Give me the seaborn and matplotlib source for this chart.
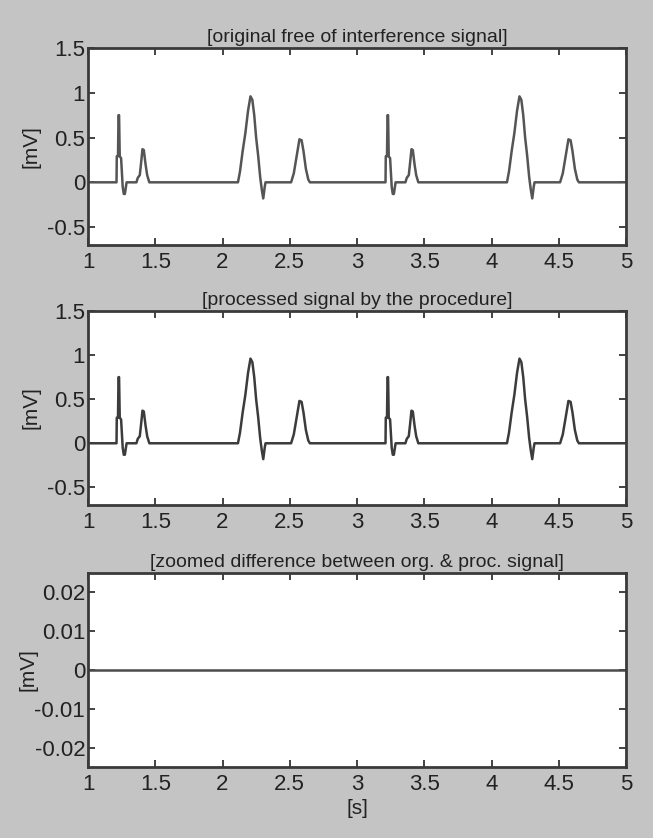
import matplotlib
matplotlib.use("Agg")
import matplotlib.pyplot as plt
import numpy as np
import pandas as pd
import seaborn as sns

# ECG-like test signal, breakpoints [s], [mV]
time_s = [
    1.000, 1.212, 1.214, 1.223, 1.227, 1.231, 1.236, 1.246, 1.258, 1.266, 1.274, 1.287,
    1.360, 1.370, 1.385, 1.395, 1.405, 1.415, 1.428, 1.440, 1.456,
    2.115, 2.130, 2.150, 2.170, 2.190, 2.208, 2.222, 2.236, 2.250, 2.265, 2.280, 2.292, 2.303, 2.314, 2.320,
    2.510, 2.530, 2.550, 2.572, 2.588, 2.602, 2.620, 2.638, 2.650,
    3.212, 3.214, 3.223, 3.227, 3.231, 3.236, 3.246, 3.258, 3.266, 3.274, 3.287,
    3.360, 3.370, 3.385, 3.395, 3.405, 3.415, 3.428, 3.440, 3.456,
    4.115, 4.130, 4.150, 4.170, 4.190, 4.208, 4.222, 4.236, 4.250, 4.265, 4.280, 4.292, 4.303, 4.314, 4.320,
    4.510, 4.530, 4.550, 4.572, 4.588, 4.602, 4.620, 4.638, 4.650,
    5.000,
]
original_mv = [
    0.00, 0.00, 0.29, 0.29, 0.75, 0.75, 0.29, 0.27, -0.05, -0.13, -0.13, 0.00,
    0.00, 0.05, 0.08, 0.22, 0.37, 0.36, 0.20, 0.08, 0.00,
    0.00, 0.12, 0.35, 0.55, 0.80, 0.96, 0.92, 0.75, 0.50, 0.30, 0.06, -0.08, -0.18, -0.05, 0.00,
    0.00, 0.10, 0.28, 0.48, 0.47, 0.35, 0.15, 0.03, 0.00,
    0.00, 0.29, 0.29, 0.75, 0.75, 0.29, 0.27, -0.05, -0.13, -0.13, 0.00,
    0.00, 0.05, 0.08, 0.22, 0.37, 0.36, 0.20, 0.08, 0.00,
    0.00, 0.12, 0.35, 0.55, 0.80, 0.96, 0.92, 0.75, 0.50, 0.30, 0.06, -0.08, -0.18, -0.05, 0.00,
    0.00, 0.10, 0.28, 0.48, 0.47, 0.35, 0.15, 0.03, 0.00,
    0.00,
]
# the procedure returns the same samples
processed_mv = list(original_mv)

titles = [
    "[original free of interference signal]",
    "[processed signal by the procedure]",
    "[zoomed difference between org. & proc. signal]",
]
x_ticks = [1, 1.5, 2, 2.5, 3, 3.5, 4, 4.5, 5]
x_ticklabels = ["1", "1.5", "2", "2.5", "3", "3.5", "4", "4.5", "5"]
sig_yticks = [-0.5, 0, 0.5, 1, 1.5]
sig_yticklabels = ["-0.5", "0", "0.5", "1", "1.5"]
diff_yticks = [-0.02, -0.01, 0, 0.01, 0.02]
diff_yticklabels = ["-0.02", "-0.01", "0", "0.01", "0.02"]

df = pd.DataFrame({"t": time_s, "org": original_mv, "proc": processed_mv})
df["diff"] = df["org"] - df["proc"]

sns.set_style("ticks")
plt.rcParams["font.family"] = ["Liberation Sans", "DejaVu Sans"]

bg = "#c4c4c4"
ink = "#222222"
line_cols = ["#555555", "#3c3c3c", "#4a4a4a"]

fig = plt.figure(figsize=(6.53, 8.38), dpi=100, facecolor=bg)
W, H = 653, 838
left, right = 88, 626
boxes = [(48, 245), (311, 505), (573, 767)]
ylabel_x = [-0.088, -0.088, -0.094]
axs = []
for top, bottom in boxes:
    axs.append(fig.add_axes([left / W, 1 - bottom / H, (right - left) / W, (bottom - top) / H]))

cols = ["org", "proc", "diff"]
for i, ax in enumerate(axs):
    ax.set_facecolor("white")
    sns.lineplot(data=df, x="t", y=cols[i], ax=ax, color=line_cols[i], linewidth=1.8,
                 sort=False, estimator=None)
    ax.set_xlim(1, 5)
    ax.set_xticks(x_ticks)
    ax.set_xticklabels(x_ticklabels)
    if i < 2:
        ax.set_ylim(-0.7, 1.5)
        ax.set_yticks(sig_yticks)
        ax.set_yticklabels(sig_yticklabels)
    else:
        ax.set_ylim(-0.025, 0.025)
        ax.set_yticks(diff_yticks)
        ax.set_yticklabels(diff_yticklabels)
    ax.set_title(titles[i], fontsize=14, color=ink, pad=4)
    ax.set_ylabel("[mV]", fontsize=15, color=ink)
    ax.yaxis.set_label_coords(ylabel_x[i], 0.5)
    ax.set_xlabel("[s]" if i == 2 else "", fontsize=15, color=ink, labelpad=3)
    ax.tick_params(direction="in", length=5, width=1.2, top=True, right=True,
                   labelsize=16, colors=ink)
    ax.tick_params(axis="x", pad=5)
    ax.tick_params(axis="y", pad=2)
    for sp in ax.spines.values():
        sp.set_visible(True)
        sp.set_color("#3a3a3a")
        sp.set_linewidth(2)

fig.savefig("out.png", dpi=100, facecolor=bg)
